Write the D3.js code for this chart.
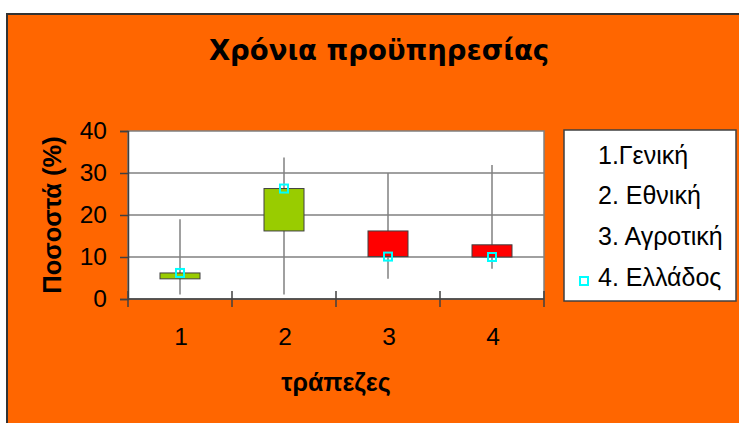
<!DOCTYPE html>
<html>
<head>
<meta charset="utf-8">
<script src="https://cdn.jsdelivr.net/npm/d3@7"></script>
<style>
  html, body { margin: 0; padding: 0; background: #ffffff; }
  svg { display: block; font-family: "Liberation Sans", Arial, sans-serif; }
</style>
</head>
<body>
<svg id="chart" width="739" height="423"></svg>
<script>
// ---- data ----
const title = "Χρόνια προϋπηρεσίας";
const xTitle = "τράπεζες";
const yTitle = "Ποσοστά (%)";
const categories = ["1", "2", "3", "4"];
const seriesNames = ["1.Γενική", "2. Εθνική", "3. Αγροτική", "4. Ελλάδος"];
const openVals  = [4.8, 16.2, 16.2, 12.9];   // 1.Γενική
const highVals  = [19, 33.7, 30, 31.9];      // 2. Εθνική
const lowVals   = [1.1, 1.1, 4.8, 7.2];      // 3. Αγροτική
const closeVals = [6.2, 26.3, 10.1, 10];     // 4. Ελλάδος
const yTicks = [0, 10, 20, 30, 40];

// ---- layout ----
const svg = d3.select("#chart");
const plot = { left: 128, right: 544, top: 131, bottom: 299 };
const orange = "#FF6600";

// chart area background
svg.append("rect").attr("x", 7).attr("y", 14).attr("width", 760).attr("height", 430)
  .attr("fill", orange).attr("stroke", "#333333").attr("stroke-width", 2);

const x = d3.scaleBand().domain(categories).range([plot.left, plot.right]);
const y = d3.scaleLinear().domain([0, 40]).range([plot.bottom, plot.top]);

// plot area
svg.append("rect").attr("x", plot.left).attr("y", plot.top)
  .attr("width", plot.right - plot.left).attr("height", plot.bottom - plot.top)
  .attr("fill", "#ffffff").attr("stroke", "#808080").attr("stroke-width", 1.5);

// gridlines
svg.append("g").selectAll("line").data(yTicks.filter(t => t > 0 && t < 40)).join("line")
  .attr("x1", plot.left).attr("x2", plot.right)
  .attr("y1", d => y(d)).attr("y2", d => y(d))
  .attr("stroke", "#808080").attr("stroke-width", 1.5);

// y axis
const yAxis = d3.axisLeft(y).tickValues(yTicks).tickSize(8).tickPadding(13);
const gy = svg.append("g").attr("transform", `translate(${plot.left},0)`).call(yAxis);
gy.select(".domain").attr("stroke", "#404040").attr("stroke-width", 1.5);
gy.selectAll(".tick line").attr("stroke", "#404040").attr("stroke-width", 1.5);
gy.selectAll(".tick text").attr("font-size", 24.5).attr("fill", "#000")
  .attr("font-family", "'Liberation Sans', Arial, sans-serif").attr("dy", "0.3em");

// x axis
const gx = svg.append("g").attr("transform", `translate(0,${plot.bottom})`);
gx.append("line").attr("x1", plot.left).attr("x2", plot.right).attr("y1", 0).attr("y2", 0)
  .attr("stroke", "#404040").attr("stroke-width", 1.5);
const edges = categories.map(c => x(c)).concat([x(categories[categories.length - 1]) + x.bandwidth()]);
gx.selectAll("line.tk").data(edges).join("line").attr("class", "tk")
  .attr("x1", d => d).attr("x2", d => d).attr("y1", -8).attr("y2", 8)
  .attr("stroke", "#404040").attr("stroke-width", 1.5);
gx.selectAll("text").data(categories).join("text")
  .attr("x", d => x(d) + x.bandwidth() / 2 + 1).attr("y", 46)
  .attr("text-anchor", "middle").attr("font-size", 24.5).text(d => d);

// stock marks
const cx = i => x(categories[i]) + x.bandwidth() / 2;
const boxW = 40;
const idx = d3.range(categories.length);
svg.append("g").selectAll("line").data(idx).join("line")
  .attr("x1", cx).attr("x2", cx)
  .attr("y1", i => y(highVals[i])).attr("y2", i => y(lowVals[i]))
  .attr("stroke", "#808080").attr("stroke-width", 1.5);
svg.append("g").selectAll("rect").data(idx).join("rect")
  .attr("x", i => cx(i) - boxW / 2)
  .attr("y", i => y(Math.max(openVals[i], closeVals[i])))
  .attr("width", boxW)
  .attr("height", i => Math.abs(y(openVals[i]) - y(closeVals[i])))
  .attr("fill", i => closeVals[i] >= openVals[i] ? "#99CC00" : "#FF0000")
  .attr("stroke", "#404040").attr("stroke-width", 1);
svg.append("g").selectAll("rect").data(idx).join("rect")
  .attr("x", i => cx(i) - 4).attr("y", i => y(closeVals[i]) - 4)
  .attr("width", 8).attr("height", 8)
  .attr("fill", "none").attr("stroke", "#00FFFF").attr("stroke-width", 2);

// titles
svg.append("text").attr("x", 379).attr("y", 60).attr("text-anchor", "middle")
  .attr("font-family", "'DejaVu Sans', Verdana, sans-serif")
  .attr("font-size", 27.5).attr("font-weight", "bold").text(title);
svg.append("text").attr("x", (plot.left + plot.right) / 2).attr("y", 391).attr("text-anchor", "middle")
  .attr("font-size", 25).attr("font-weight", "bold").text(xTitle);
svg.append("text").attr("transform", `translate(61,${(plot.top + plot.bottom) / 2}) rotate(-90)`)
  .attr("text-anchor", "middle").attr("font-size", 25.5).attr("font-weight", "bold").text(yTitle);

// legend
const lg = svg.append("g");
lg.append("rect").attr("x", 564).attr("y", 130).attr("width", 172).attr("height", 171)
  .attr("fill", "#ffffff").attr("stroke", "#404040").attr("stroke-width", 1.5);
const legY = d3.scalePoint().domain(seriesNames).range([155, 277]);
lg.selectAll("text").data(seriesNames).join("text")
  .attr("x", 598).attr("y", d => legY(d) + 8.5)
  .attr("font-size", 25).text(d => d);
lg.append("rect").attr("x", 580).attr("y", legY(seriesNames[3]))
  .attr("width", 8).attr("height", 8)
  .attr("fill", "#ffffff").attr("stroke", "#00FFFF").attr("stroke-width", 2);
</script>
</body>
</html>
